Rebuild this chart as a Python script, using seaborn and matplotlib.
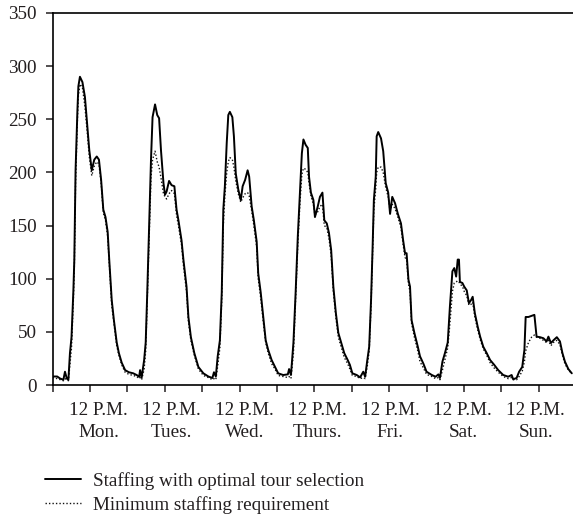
import matplotlib
matplotlib.use("Agg")
import matplotlib.pyplot as plt
import seaborn as sns
import numpy as np
from matplotlib.ticker import FixedLocator, NullFormatter, FixedFormatter

# ---- data (hours since Monday 0:00) ----
mon_h = [0, 1.5, 2.5, 3.5, 4.0, 4.6, 5.1, 5.6, 6.1, 6.7, 7.0, 7.4, 8.0, 8.3, 8.8, 9.6, 10.4, 11.2, 11.8, 12.6,
         13.4, 14.2, 14.9, 15.6, 16.3, 17.0, 17.7, 18.2, 19.0, 19.7, 20.6, 21.3, 22.2, 23.3]
tue_h = [24.5, 25.9, 27.0, 27.8, 28.1, 28.6, 29.4, 29.9, 30.4, 31.0, 31.6, 32.1, 32.9, 33.6, 34.2, 34.8, 35.6,
         36.1, 36.6, 37.4, 38.2, 39.1, 39.8, 40.4, 41.4, 42.0, 43.0, 43.6, 44.4, 45.5, 46.8]
wed_h = [48.4, 50.0, 51.3, 51.8, 52.4, 53.0, 53.7, 54.3, 54.8, 55.3, 55.9, 56.4, 56.9, 57.7, 58.2, 58.8, 59.6,
         60.4, 61.0, 61.8, 62.6, 63.1, 63.9, 64.6, 65.5, 66.0, 66.8, 67.6, 68.4, 69.2, 70.3, 71.4]
thu_h = [72.4, 74.0, 75.5, 75.9, 76.5, 77.3, 78.0, 78.7, 79.4, 80.0, 80.5, 81.2, 81.9, 82.3, 82.9, 83.7, 84.2,
         85.1, 85.8, 86.6, 87.2, 88.0, 88.7, 89.4, 90.1, 90.9, 91.7, 92.6, 93.6, 94.7, 95.4]
fri_h = [96.2, 97.6, 98.7, 99.7, 100.3, 101.0, 101.6, 102.2, 102.7, 103.1, 103.7, 104.0, 104.5, 105.4, 106.1,
         106.9, 107.7, 108.3, 109.0, 109.9, 110.8, 111.8, 112.5, 113.1, 113.6, 114.2, 114.7, 115.2, 116.1,
         117.2, 117.9, 119.0]
sat_h = [120.0, 121.7, 122.9, 123.8, 124.3, 125.1, 125.9, 126.8, 127.5, 128.3, 128.9, 129.5, 130.0, 130.4,
         130.7, 131.5, 132.1, 132.9, 133.6, 134.3, 134.8, 135.5, 136.4, 137.2, 138.2, 139.3, 140.4, 141.7, 143.0]
sun_h = [144.6, 146.2, 147.3, 147.8, 148.9, 149.7, 150.7, 151.4, 151.8, 152.7, 153.7, 154.6, 155.3, 156.4,
         157.5, 158.5, 159.1, 159.9, 160.7, 161.8, 162.8, 163.6, 164.4, 165.5, 166.6]

mon_staff = [8, 8, 6, 5, 12.5, 6, 5, 30, 45, 89, 118, 202, 259, 281, 290, 285, 271, 243, 221, 202,
             212, 215, 212, 193, 165, 158, 144, 118, 80, 61, 40, 30, 21, 14]
tue_staff = [12, 11, 9.4, 7.8, 14, 7, 23.5, 40, 87, 149, 212, 252, 264, 254, 251, 221, 190, 179, 182, 192,
             188, 187, 165, 155, 136, 118, 92.5, 64, 45, 30, 17]
wed_staff = [11, 8, 6.6, 12, 8, 27, 42, 87, 165, 187, 228, 254, 257, 252, 234, 199, 184, 174, 187, 193,
             202, 196, 168, 155, 135, 105, 87, 64, 42, 33, 23.5, 17]
thu_staff = [11, 9.4, 10, 15, 9.4, 40, 87, 140, 181, 218, 231, 226, 223, 196, 181, 174, 158, 168, 177, 181,
             155, 152, 143, 127, 92.5, 68, 49, 40, 30, 23.5, 19]
fri_staff = [11, 9.4, 7.2, 12.5, 7.8, 23.5, 36, 80, 130, 174, 196, 234, 238, 232, 220, 190, 181, 161, 177, 171,
             161, 152, 136, 124, 124, 99, 92.5, 61, 49, 36, 27, 20]
sat_staff = [12.5, 9.4, 7.8, 10, 6.6, 22, 30, 40, 74, 107, 110, 102, 118, 118, 97, 96, 92.5, 89, 77, 80,
             83, 67.5, 55, 45.5, 36, 30, 23.5, 19, 14]
sun_staff = [9.4, 7.8, 9.4, 5.4, 6.6, 12.5, 17, 33, 64, 64, 65, 66, 45.5, 45, 44, 41, 45.5, 39.5, 42, 45,
             41, 30, 22, 15, 11]

mon_req = [7, 6, 5, 4, 6, 5, 4, 20, 35, 80, 110, 190, 250, 272, 283, 280, 262, 236, 215, 197,
           206, 210, 208, 190, 162, 155, 140, 115, 75, 58, 37, 28, 19, 12]
tue_req = [10, 9, 8, 6, 7, 5, 15, 32, 80, 140, 195, 212, 220, 210, 205, 195, 180, 177, 175, 180,
           183, 180, 160, 150, 132, 113, 88, 60, 42, 28, 15]
wed_req = [9, 7, 5, 6, 5, 18, 35, 80, 150, 178, 200, 210, 214, 212, 205, 192, 180, 172, 176, 180,
           181, 178, 164, 150, 130, 100, 82, 60, 40, 30, 20, 15]
thu_req = [9, 8, 7, 8, 6, 30, 80, 132, 172, 198, 204, 203, 200, 190, 178, 170, 160, 163, 168, 170,
           150, 148, 138, 122, 88, 64, 45, 36, 26, 20, 15]
fri_req = [9, 8, 6, 7, 6, 18, 32, 75, 125, 165, 185, 200, 205, 205, 200, 186, 177, 164, 170, 166,
           158, 148, 132, 120, 118, 95, 88, 58, 45, 32, 22, 16]
sat_req = [10, 8, 6, 7, 5, 14, 24, 35, 58, 88, 96, 97, 98, 97, 95, 93, 88, 84, 75, 76,
           78, 64, 52, 43, 34, 28, 21, 16, 12]
sun_req = [8, 6, 7, 5, 5, 8, 13, 22, 32, 40, 45, 47, 45, 44, 42, 40, 42, 37, 40, 42,
           38, 28, 20, 14, 11]

day_labels = ["Mon.", "Tues.", "Wed.", "Thurs.", "Fri.", "Sat.", "Sun."]
y_ticks = [0, 50, 100, 150, 200, 250, 300, 350]
series_names = ["Staffing with optimal tour selection", "Minimum staffing requirement"]

hours = np.array(mon_h + tue_h + wed_h + thu_h + fri_h + sat_h + sun_h)
staff = np.array(mon_staff + tue_staff + wed_staff + thu_staff + fri_staff + sat_staff + sun_staff)
req = np.array(mon_req + tue_req + wed_req + thu_req + fri_req + sat_req + sun_req)

# ---- style ----
sns.set_theme(style="ticks")
TXT = "#231f20"
plt.rcParams["font.family"] = ["Liberation Serif", "DejaVu Serif"]
plt.rcParams["text.color"] = TXT
plt.rcParams["xtick.color"] = TXT
plt.rcParams["ytick.color"] = TXT
FS = 13.8

W, H = 573, 522
fig = plt.figure(figsize=(W / 100, H / 100), dpi=100)
ax = fig.add_axes([52.5 / W, 1 - 385 / H, (573 - 52.5) / W, (385 - 13) / H])

sns.lineplot(x=hours, y=req, ax=ax, color="#111111", linewidth=1.0, linestyle=(0, (1, 1.5)),
             sort=False, estimator=None, label=series_names[1])
sns.lineplot(x=hours, y=staff, ax=ax, color="black", linewidth=1.4,
             sort=False, estimator=None, label=series_names[0])

ax.set_xlim(0, (573 - 52.5) / 3.117)
ax.set_ylim(0, 350)
ax.set_xlabel("")
ax.set_ylabel("")

for s in ["left", "bottom", "top"]:
    ax.spines[s].set_visible(True)
    ax.spines[s].set_linewidth(1.2)
    ax.spines[s].set_color("black")
ax.spines["right"].set_visible(False)

ax.set_yticks(y_ticks)
ax.set_yticklabels([str(v) for v in y_ticks], fontsize=FS)
ax.tick_params(axis="y", direction="out", length=5, width=1.1, pad=6.5, colors=TXT)

# major ticks every 12 hours (no labels), day labels as minor ticks
ax.xaxis.set_major_locator(FixedLocator(np.arange(0, 168, 12)))
ax.xaxis.set_major_formatter(NullFormatter())
ax.tick_params(axis="x", which="major", direction="out", length=5, width=1.1)
label_pos = 14.85 + 23.36 * np.arange(len(day_labels))
ax.xaxis.set_minor_locator(FixedLocator(label_pos))
ax.xaxis.set_minor_formatter(FixedFormatter(["12 P.M.\n" + d for d in day_labels]))
ax.tick_params(axis="x", which="minor", length=0, pad=12, labelsize=FS, colors=TXT)
for t in ax.xaxis.get_minorticklabels():
    t.set_linespacing(1.4)

# legend below
handles, labels = ax.get_legend_handles_labels()
ax.get_legend().remove()
order = [labels.index(series_names[0]), labels.index(series_names[1])]
leg = fig.legend([handles[i] for i in order], [labels[i] for i in order],
                 loc="upper left", bbox_to_anchor=(45 / W, 1 - 472 / H),
                 frameon=False, fontsize=FS, handlelength=1.9, handletextpad=0.6,
                 labelspacing=0.3, borderpad=0, borderaxespad=0)
for t in leg.get_texts():
    t.set_color(TXT)

fig.savefig("out.png", dpi=100)
